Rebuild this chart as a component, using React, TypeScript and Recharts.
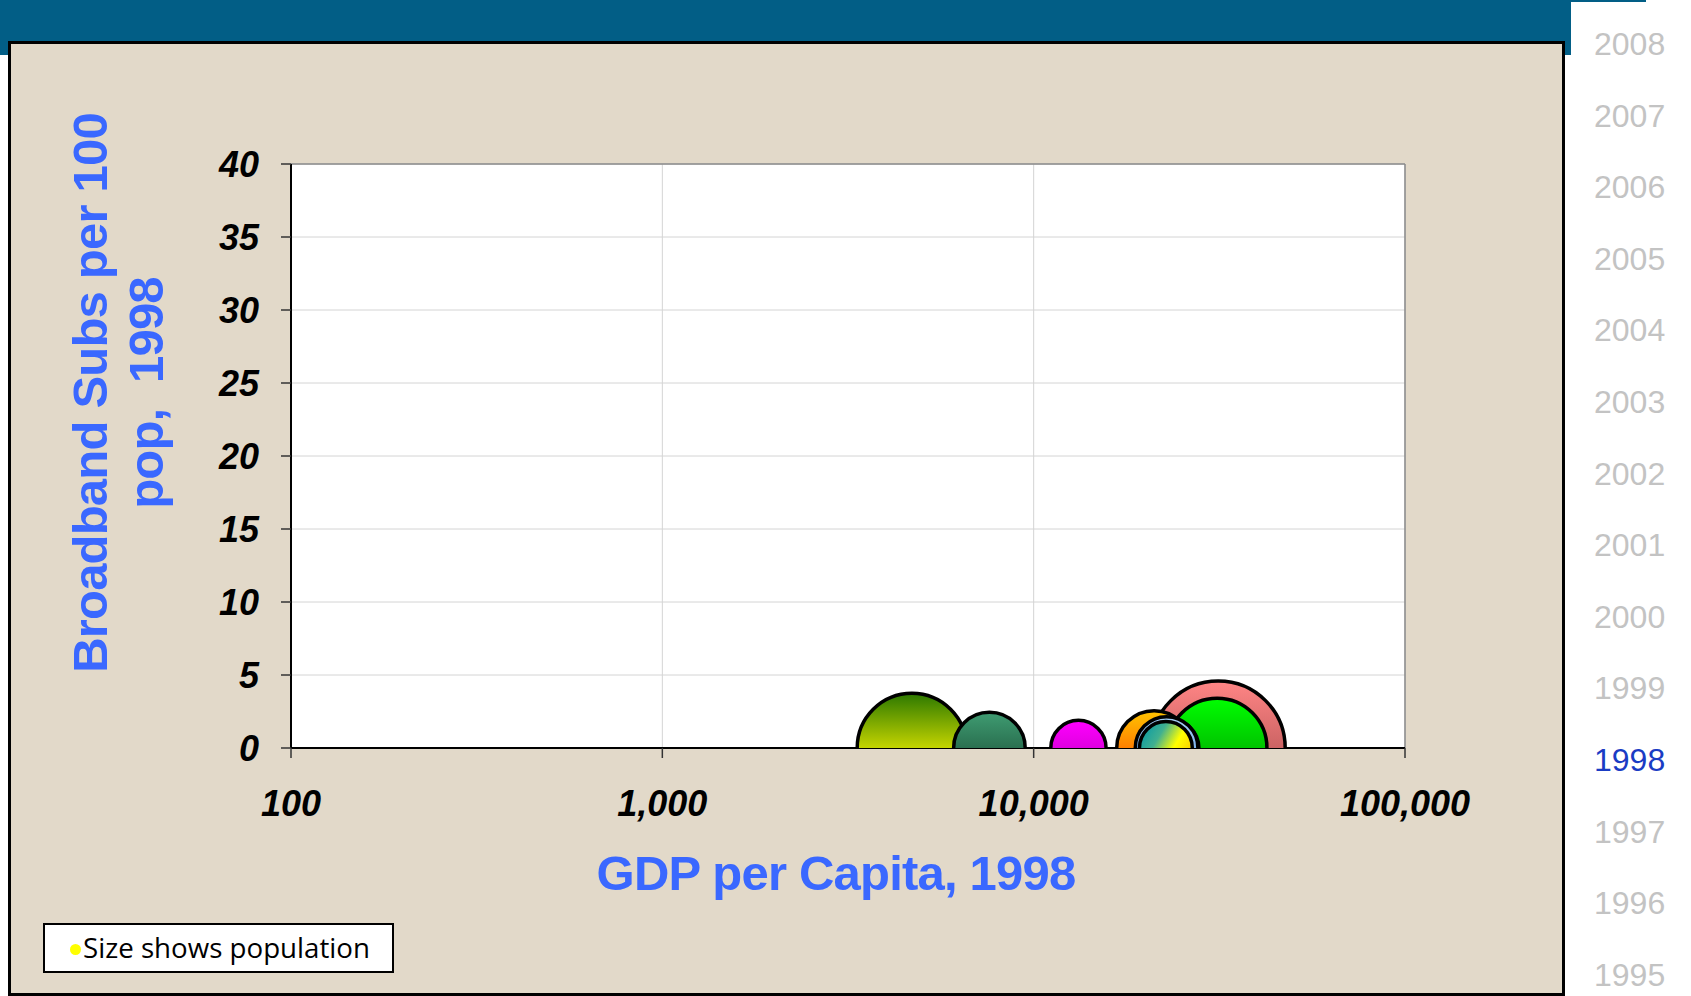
import React from 'react';
import {
  CartesianGrid,
  ReferenceLine,
  Scatter,
  ScatterChart,
  XAxis,
  YAxis,
  ZAxis,
} from 'recharts';

const countries = ['Brazil', 'Mexico', 'Korea', 'United States', 'Japan', 'Germany', 'France', 'United Kingdom', 'Italy'];
const gdpPerCapita = [4700, 7600, 13200, 31400, 31200, 21100, 23300, 22800, 22700];
const broadbandPer100 = [0, 0, 0, 0, 0, 0, 0, 0, 0];
const populationM = [180, 77, 46, 270, 149, 84, 50, 59, 42];
const bubbleGradients = ['gOlive', 'gTeal', 'gMagenta', 'gPink', 'gGreen', 'gOrange', 'gPeri', 'gSky', 'gTealYellow'];

const xTicks = [100, 1000, 10000, 100000];
const yTicks = [0, 5, 10, 15, 20, 25, 30, 35, 40];
const years = [2008, 2007, 2006, 2005, 2004, 2003, 2002, 2001, 2000, 1999, 1998, 1997, 1996, 1995];
const currentYear = 1998;

const data = countries.map((name, i) => ({
  name,
  gdp: gdpPerCapita[i],
  bb: broadbandPer100[i],
  pop: populationM[i],
  grad: bubbleGradients[i],
}));

const maxPop = Math.max(...populationM);

const Bubble = (props: any) => {
  const { cx, cy, payload } = props;
  const r = props.width ? props.width / 2 : Math.sqrt((props.size ?? 0) / Math.PI);
  return (
    <circle cx={cx} cy={cy} r={r} fill={`url(#${payload.grad})`} stroke="#000" strokeWidth={3.5} />
  );
};

const tickStyle = {
  fontFamily: '"Liberation Sans", Arial, sans-serif',
  fontSize: 36,
  fontWeight: 700,
  fontStyle: 'italic',
  fill: '#000',
};

const titleFont = '"Liberation Sans", Arial, sans-serif';

export default function App() {
  return (
    <div style={{ position: 'absolute', left: 0, top: 0, width: 1691, height: 996, background: '#fff', overflow: 'hidden' }}>
      {/* header band */}
      <div style={{ position: 'absolute', left: 0, top: 0, width: 1571, height: 55, background: '#025e86' }} />
      <div style={{ position: 'absolute', left: 1571, top: 0, width: 75, height: 2, background: '#025e86' }} />
      {/* beige panel */}
      <div
        style={{
          position: 'absolute',
          left: 8,
          top: 41,
          width: 1551,
          height: 949,
          background: '#e2d9c9',
          border: '3px solid #000',
        }}
      />

      <div style={{ position: 'absolute', left: 0, top: 0 }}>
        <ScatterChart width={1691} height={996} margin={{ top: 164, right: 286, bottom: 188, left: 211 }}>
          <defs>
            <linearGradient id="gOlive" x1="0" y1="0" x2="0" y2="1">
              <stop offset="0" stopColor="#2c7800" />
              <stop offset="0.5" stopColor="#c4d400" />
              <stop offset="1" stopColor="#c4d400" />
            </linearGradient>
            <linearGradient id="gTeal" x1="0" y1="0" x2="0" y2="1">
              <stop offset="0" stopColor="#3f9c72" />
              <stop offset="0.5" stopColor="#2a7050" />
              <stop offset="1" stopColor="#2a7050" />
            </linearGradient>
            <linearGradient id="gMagenta" x1="0" y1="0" x2="0" y2="1">
              <stop offset="0" stopColor="#ff00ff" />
              <stop offset="0.5" stopColor="#e000e0" />
              <stop offset="1" stopColor="#e000e0" />
            </linearGradient>
            <linearGradient id="gPink" x1="0" y1="0" x2="0" y2="1">
              <stop offset="0" stopColor="#ff8585" />
              <stop offset="0.5" stopColor="#cc6464" />
              <stop offset="1" stopColor="#cc6464" />
            </linearGradient>
            <linearGradient id="gGreen" x1="0" y1="0" x2="0" y2="1">
              <stop offset="0" stopColor="#00ff00" />
              <stop offset="0.5" stopColor="#00c400" />
              <stop offset="1" stopColor="#00c400" />
            </linearGradient>
            <linearGradient id="gOrange" x1="0" y1="0" x2="0" y2="1">
              <stop offset="0" stopColor="#ffc400" />
              <stop offset="0.5" stopColor="#ff8000" />
              <stop offset="1" stopColor="#ff8000" />
            </linearGradient>
            <linearGradient id="gPeri" x1="0" y1="0" x2="0" y2="1">
              <stop offset="0" stopColor="#9a9aec" />
              <stop offset="0.5" stopColor="#7676cc" />
              <stop offset="1" stopColor="#7676cc" />
            </linearGradient>
            <linearGradient id="gSky" x1="0" y1="0" x2="0" y2="1">
              <stop offset="0" stopColor="#a8d0f4" />
              <stop offset="0.5" stopColor="#80b4ec" />
              <stop offset="1" stopColor="#80b4ec" />
            </linearGradient>
            <linearGradient id="gTealYellow" x1="0" y1="0.1" x2="1" y2="0.7">
              <stop offset="0" stopColor="#0096a8" />
              <stop offset="0.35" stopColor="#40b090" />
              <stop offset="0.65" stopColor="#ffff00" />
              <stop offset="1" stopColor="#f4c000" />
            </linearGradient>
          </defs>
          <CartesianGrid stroke="#d4d4d4" strokeWidth={1} fill="#ffffff" />
          <XAxis
            type="number"
            dataKey="gdp"
            scale="log"
            domain={[100, 100000]}
            ticks={xTicks}
            allowDataOverflow
            height={60}
            tickFormatter={(v: number) => v.toLocaleString('en-US')}
            tick={tickStyle}
            tickSize={10}
            tickMargin={32}
            axisLine={{ stroke: '#000', strokeWidth: 2 }}
            tickLine={{ stroke: '#333', strokeWidth: 1.5 }}
          />
          <YAxis
            type="number"
            dataKey="bb"
            domain={[0, 40]}
            ticks={yTicks}
            allowDataOverflow
            width={80}
            tick={tickStyle}
            tickSize={10}
            tickMargin={22}
            axisLine={{ stroke: '#000', strokeWidth: 2 }}
            tickLine={{ stroke: '#333', strokeWidth: 1.5 }}
          />
          <ZAxis type="number" dataKey="pop" domain={[0, maxPop]} range={[0, Math.PI * 67 * 67]} />
          <ReferenceLine y={40} stroke="#8a8a8a" strokeWidth={1.5} />
          <ReferenceLine x={100000} stroke="#8a8a8a" strokeWidth={1.5} />
          <Scatter data={data} shape={Bubble} isAnimationActive={false} />
        </ScatterChart>
      </div>

      {/* titles and year list */}
      <svg width={1691} height={996} style={{ position: 'absolute', left: 0, top: 0, pointerEvents: 'none' }}>
        <text
          x={836}
          y={890}
          textAnchor="middle"
          fontFamily={titleFont}
          fontWeight={700}
          fontSize={49}
          letterSpacing={-0.8}
          fill="#3a68ff"
        >
          GDP per Capita, 1998
        </text>
        <g fontFamily={titleFont} fontWeight={700} fontSize={49} letterSpacing={-0.8} fill="#3a68ff" textAnchor="middle">
          <text x={107} y={393} transform="rotate(-90 107 393)">Broadband Subs per 100</text>
          <text x={163} y={393} transform="rotate(-90 163 393)" style={{ whiteSpace: 'pre' }}>
            {'pop,  1998'}
          </text>
        </g>
        <g fontFamily={titleFont} fontSize={32}>
          {years.map((yr, i) => (
            <text key={yr} x={1594} y={55 + i * 71.6} fill={yr === currentYear ? '#1a3cc4' : '#c3c3c3'}>
              {yr}
            </text>
          ))}
        </g>
      </svg>

      {/* size legend */}
      <div
        style={{
          position: 'absolute',
          left: 43,
          top: 923,
          width: 347,
          height: 46,
          background: '#fff',
          border: '2px solid #000',
        }}
      >
        <div
          style={{
            position: 'absolute',
            left: 25,
            top: 19,
            width: 11,
            height: 11,
            borderRadius: '50%',
            background: '#ffff00',
          }}
        />
        <div
          style={{
            position: 'absolute',
            left: 38,
            top: 3,
            fontFamily: '"Open Sans", sans-serif',
            fontSize: 27.7,
            lineHeight: '38px',
            color: '#000',
            whiteSpace: 'nowrap',
          }}
        >
          Size shows population
        </div>
      </div>
    </div>
  );
}
